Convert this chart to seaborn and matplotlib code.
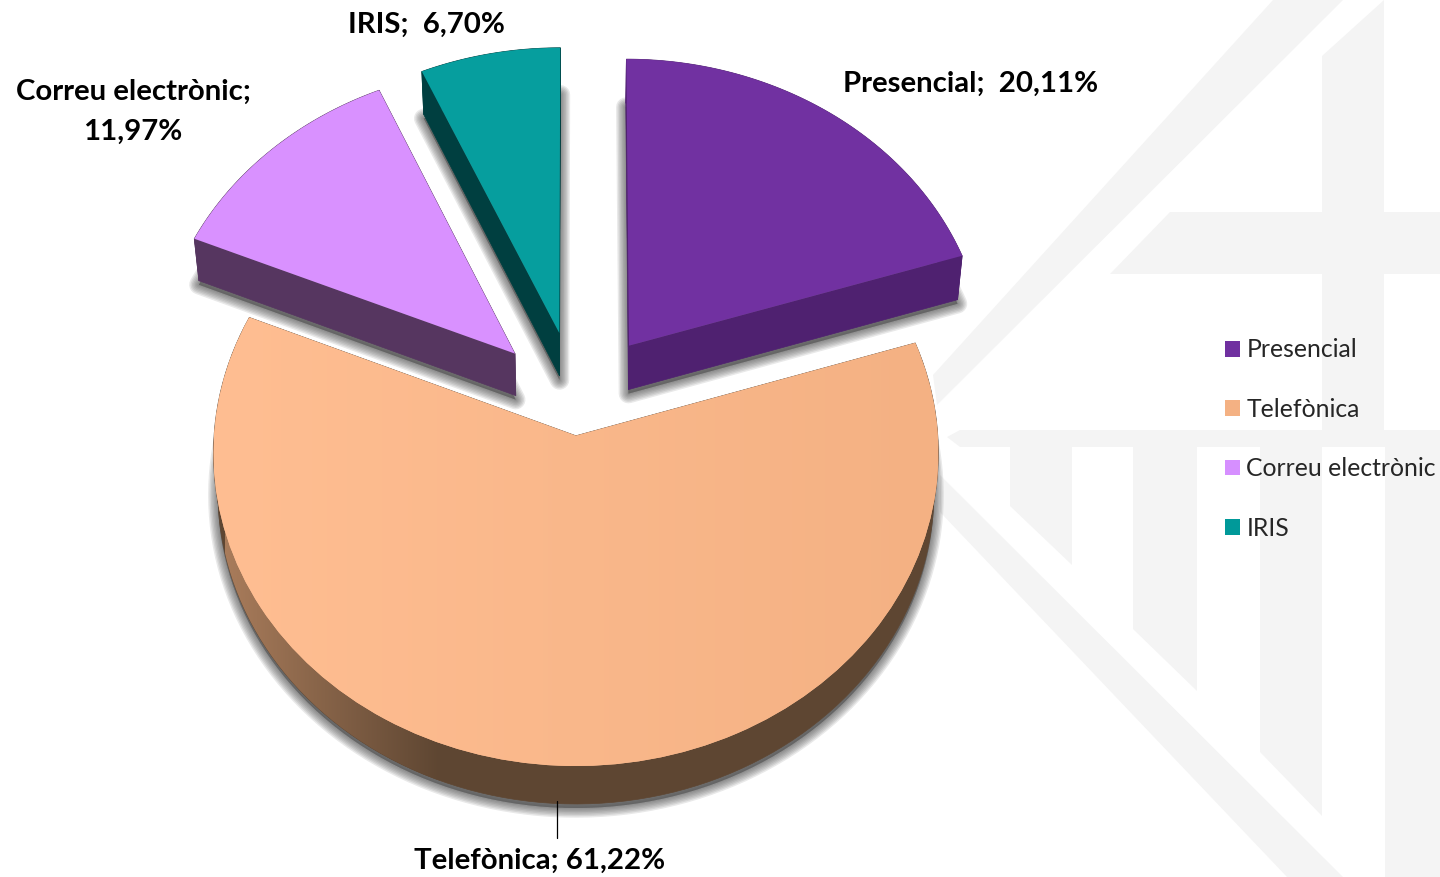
import numpy as np
import matplotlib
matplotlib.use("Agg")
import matplotlib.pyplot as plt
import matplotlib.transforms as mtransforms
from matplotlib.patches import Polygon
from matplotlib.colors import to_rgb
import seaborn as sns

canals = ["Presencial", "Telefònica", "Correu electrònic", "IRIS"]
percentatges = [20.11, 61.22, 11.97, 6.70]
explode = [0.245, 0.096, 0.245, 0.245]

top_colors = ["#7131A1", "#F8B68A", "#D991FF", "#069E9E"]
side_colors = ["#4F2170", "#5E4632", "#563660", "#003F40"]
legend_colors = ["#7030A0", "#F4B183", "#D68FFF", "#009999"]
depths = [44, 38, 42, 43]

# projection of the pie plane into image pixels
CX, CY, RX, RY, K = 577.5, 406.0, 360.0, 308.7, 0.055
SHRINK = 0.988


class Projection(mtransforms.Transform):
    input_dims = 2
    output_dims = 2

    def transform_non_affine(self, xy):
        xy = np.asarray(xy, dtype=float)
        w = 1 + K * xy[:, 1]
        return np.column_stack([CX + RX * xy[:, 0] / w, CY - RY * xy[:, 1] / w])


def gradient(ax, clip, left, right, x0, x1, zorder):
    c0 = np.array(to_rgb(left))
    c1 = np.array(to_rgb(right))
    t = np.linspace(0, 1, 256)[None, :, None]
    img = c0[None, None, :] * (1 - t) + c1[None, None, :] * t
    im = ax.imshow(img, extent=[x0, x1, 877, 0], aspect="auto", zorder=zorder)
    im.set_clip_path(clip)


def draw_watermark(ax):
    grey = "#F4F4F4"
    shapes = [
        [(933, 375), (1273, 0), (1343, 0), (937, 405)],
        [(1322, 56), (1384, 0), (1384, 430), (1322, 430)],
        [(1170, 212), (1322, 212), (1322, 274), (1110, 274)],
        [(1384, 212), (1440, 212), (1440, 274), (1384, 274)],
        [(947, 437), (960, 430), (1440, 430), (1440, 447), (960, 447)],
        [(1010, 447), (1072, 447), (1072, 565), (1010, 506)],
        [(1133, 447), (1197, 447), (1197, 691), (1133, 629)],
        [(1260, 447), (1322, 447), (1322, 816), (1260, 752)],
        [(1385, 447), (1440, 447), (1440, 877), (1385, 877)],
        [(940, 475), (1343, 877), (1287, 877), (940, 512)],
    ]
    for pts in shapes:
        ax.add_patch(Polygon(pts, closed=True, fc=grey, ec="none", zorder=0))


sns.set_theme(style="white")
plt.rcParams["font.family"] = ["Lato", "DejaVu Sans"]

fig = plt.figure(figsize=(14.4, 8.77), dpi=100)
ax = fig.add_axes([0, 0, 1, 1])

wedges, _ = ax.pie(percentatges, explode=explode, startangle=90, counterclock=False,
                   colors=sns.color_palette(top_colors), radius=1,
                   wedgeprops=dict(linewidth=0))
ax.set_aspect("auto")
proj = Projection()

for i, w in enumerate(wedges):
    a = np.radians(np.linspace(w.theta1, w.theta2, 120))
    cx0, cy0 = w.center
    arc = proj.transform(np.column_stack([cx0 + w.r * np.cos(a), cy0 + w.r * np.sin(a)]))
    apex = proj.transform(np.array([[cx0, cy0]]))
    top = np.vstack([apex, arc])
    bottom = top.copy()
    bottom[:, 0] = CX + (bottom[:, 0] - CX) * SHRINK
    bottom[:, 1] += depths[i]

    # soft shadow under the slice
    shadow = bottom + [0, 4]
    for lw in range(14, 0, -2):
        ax.add_patch(Polygon(shadow, closed=True, fc="#4A4A4A", ec="#4A4A4A", lw=lw,
                             alpha=0.12, joinstyle="round", zorder=1))

    # side faces
    for seg_top, seg_bot in [(top[1:], bottom[1:]), (top[:2], bottom[:2]), (top[[0, -1]], bottom[[0, -1]])]:
        band = Polygon(np.vstack([seg_top, seg_bot[::-1]]), closed=True,
                       fc=side_colors[i], ec=side_colors[i], lw=0.5, zorder=2)
        ax.add_patch(band)
        if canals[i] == "Telefònica" and len(seg_top) > 2:
            gradient(ax, band, "#A97C5B", side_colors[i], 225, 440, 2.1)

    # top face: the pie wedge itself, seen through the projection
    w.set_transform(proj + ax.transData)
    w.set_zorder(3)
    if canals[i] == "Telefònica":
        gradient(ax, w, "#FFBE92", "#F4B183", 214, 938, 3.1)

draw_watermark(ax)
ax.plot([557, 557], [801, 838], color="black", lw=0.9, zorder=4)


def label(i):
    return f"{percentatges[i]:.2f}".replace(".", ",") + "%"


bold = dict(fontweight="bold", fontsize=21.2, color="black", va="center", zorder=5)
ax.text(971, 84, "Presencial;  " + label(0), ha="center", **bold)
ax.text(540, 861, "Telefònica; " + label(1), ha="center", **bold)
ax.text(133, 92, "Correu electrònic;", ha="center", **bold)
ax.text(133, 132, label(2), ha="center", **bold)
ax.text(426, 25, "IRIS;  " + label(3), ha="center", **bold)

handles = [plt.Rectangle((0, 0), 1, 1, fc=c, ec="none") for c in legend_colors]
leg = ax.legend(handles, canals, loc="center left", bbox_to_anchor=(1225 / 1440, 1 - 439 / 877),
                frameon=False, fontsize=17.8, handlelength=0.6, handleheight=0.6,
                handletextpad=0.26, labelspacing=1.47, borderaxespad=0, borderpad=0)
leg.set_zorder(5)

ax.set_xlim(0, 1440)
ax.set_ylim(877, 0)
ax.axis("off")

fig.savefig("out.png", dpi=100, facecolor="white")
